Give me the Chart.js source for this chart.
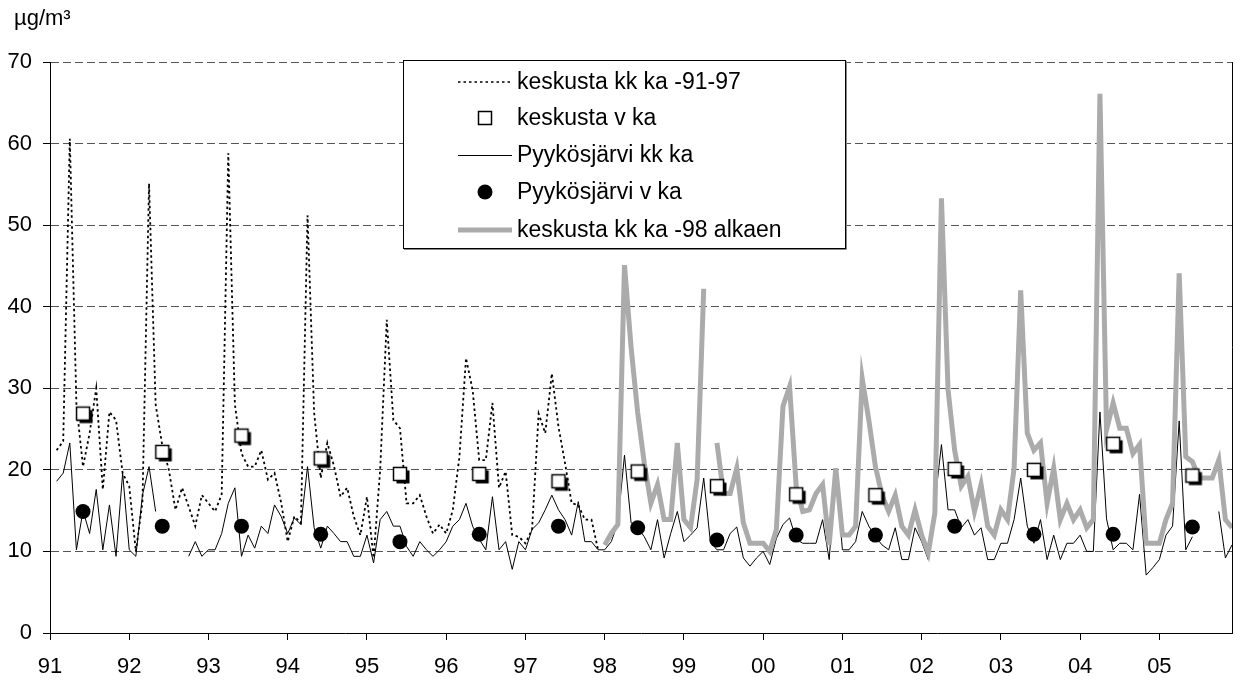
<!DOCTYPE html>
<html>
<head>
<meta charset="utf-8">
<script src="https://cdn.jsdelivr.net/npm/chart.js@4.4.1/dist/chart.umd.min.js"></script>
<style>
  html, body { margin: 0; padding: 0; background: #fff; }
  canvas { display: block; }
</style>
</head>
<body>
<canvas id="c" width="1240" height="681"></canvas>
<script>
// monthly values, index 0 = Jan 1991 ... 179 = Dec 2005 (null = no data)
const keskustaKk = [
  null, 22.4, 23.5, 60.6, 28, 20.4, 24.5, 30, 17.6, 27.1, 26.1, 19.6,   // 91
  18, 10, 16, 55.1, 28, 23, 20, 15.1, 17.8, 15.5, 13.1, 16.9,           // 92
  15.9, 14.9, 17, 58.8, 28, 22, 20.4, 20.4, 22.4, 18.8, 19.6, 16,       // 93
  11.2, 14.3, 13.5, 51.2, 27, 19, 23.3, 20.5, 16.7, 17.8, 14.3, 12,     // 94
  16.7, 9.2, 20, 38.4, 26.1, 25.1, 15.9, 15.9, 16.9, 14.3, 12.2, 13.3,  // 95
  12.2, 15.1, 21.6, 33.7, 29.8, 21.2, 21.2, 28.2, 17.8, 19.8, 12, 11.8, // 96
  11, 12.7, 26.9, 24.5, 31.8, 25.3, 20.8, 15.9, 15.7, 13.9, 13.9, 10.2  // 97
];

const pyykosjarviKk = [
  null, 18.6, 19.6, 23.3, 10.2, 15, 12.2, 17.6, 10.2, 15.7, 9.4, 19.6,   // 91
  10.2, 9.4, 16.9, 20.4, 14.9, null, null, null, null, 9.4, 11.2, 9.4,  // 92
  10.2, 10.2, 12.2, 15.9, 17.8, 9.4, 12, 10.4, 13.1, 12.2, 15.7, 14.3,  // 93
  12.2, 14.1, 13.3, 20.4, 12.9, 10.4, 13.1, 12.2, 11.2, 11.2, 9.4, 9.4, // 94
  12, 8.6, 13.9, 14.9, 13.1, 13.1, 10.6, 9.4, 11.2, 10.2, 9.4, 10.2,    // 95
  11.2, 13.1, 13.9, 15.9, 13.1, 11.5, 10.2, 16.7, 10.2, 11.2, 7.8, 11.2,// 96
  10.2, 12.7, 13.5, 15.1, 16.9, 15.1, 13.9, 12, 16.1, 11.2, 11.2, 10.2, // 97
  10.2, 11.2, 13.5, 21.8, 13.5, 12.9, 11.8, 10.2, 13.9, 9.2, 12.2, 14.9,// 98
  11.2, 12, 12.9, 19, 11.2, 10.2, 10.2, 12.2, 13, 9.2, 8.2, 9.2,        // 99
  10, 8.4, 11.6, 13.3, 14.1, 11.5, 11, 11, 11, 13.9, 9, 20.2,           // 00
  10.2, 10.2, 11.2, 14.9, 13.1, 11.8, 10.8, 10.2, 12.9, 9, 9, 12.9,     // 01
  11.2, 9, 15.9, 23.1, 15.1, 15.1, 12.9, 13.9, 12, 12.9, 9, 9,          // 02
  11, 11, 13.9, 19, 13.1, 11, 13.9, 9, 12, 9, 11, 11,                   // 03
  12, 10, 10, 27.1, 14, 10.2, 11, 11, 10.2, 17, 7.1, 8,                 // 04
  9, 12, 13.1, 26, 10.2, 11.8, null, null, null, 14.9, 9.2, 10.8        // 05
];

const keskusta98Kk = [
  10.8, 12.2, 13.3, 45.1, 35, 27, 20.8, 15.9, 18.2, 13.9, 13.9, 23.3,   // 98
  13.9, 12.9, 18.8, 42.2, null, 23.3, 17.1, 17.1, 20.2, 13.5, 11, 11,   // 99
  11, 10, 12.7, 27.8, 30.2, 18, 14.9, 15.1, 17.1, 18.2, 10.8, 20.2,     // 00
  12, 12, 13.1, 31.2, 26.1, 20.4, 16.9, 14.9, 16.9, 13.1, 12, 15.1,     // 01
  12, 9.8, 14.7, 53.3, 29.8, 22.4, 18, 19.2, 14.9, 18.2, 13.1, 12,      // 02
  15.1, 13.9, 20.2, 42, 24.5, 22.4, 23.3, 15.9, 20.2, 13.9, 15.9, 13.9, // 03
  15.1, 12.9, 13.9, 66.1, 24.9, 28.2, 25.1, 25.1, 22, 23.1, 11, 11,     // 04
  11, 13.9, 15.9, 44.1, 21.6, 21, 19, 19, 19, 21.2, 13.9, 12.9          // 05
];
const keskusta98Start = 84; // Jan 1998

// annual means 1991..2005
const keskustaV = [26.9, 22.2, 24.2, 21.4, 19.5, 19.5, 18.6, 19.8, 18, 17, 16.9, 20.1, 20, 23.2, 19.3];
const pyykosjarviV = [14.9, 13.1, 13.1, 12.1, 11.2, 12.1, 13.1, 12.9, 11.4, 12, 12, 13.1, 12.1, 12.1, 13];

const yearLabels = ['91', '92', '93', '94', '95', '96', '97', '98', '99', '00', '01', '02', '03', '04', '05'];

const seriesNames = [
  'keskusta kk ka -91-97',
  'keskusta v ka',
  'Pyykösjärvi kk ka',
  'Pyykösjärvi v ka',
  'keskusta kk ka -98 alkaen'
];

const FONT = "'Liberation Sans', Arial, sans-serif";
Chart.defaults.font.family = FONT;
Chart.defaults.font.size = 22;
Chart.defaults.color = '#000';

const monthly = (arr, start) => arr.map((v, i) => ({ x: i + start, y: v }));
const annual = arr => arr.map((v, k) => ({ x: k * 12 + 5, y: v }));

function squareMarker(shadow) {
  const c = document.createElement('canvas');
  c.width = 24; c.height = 24;
  const g = c.getContext('2d');
  if (shadow) { g.fillStyle = '#000'; g.fillRect(8.5, 8.5, 13, 13); }
  g.fillStyle = '#fff';
  g.fillRect(5.5, 5.5, 13, 13);
  g.strokeStyle = '#000';
  g.lineWidth = 1.5;
  g.strokeRect(5.5, 5.5, 13, 13);
  return c;
}
const squareImg = squareMarker(true);

const GRAY = '#ababab';

const extras = {
  id: 'extras',
  afterDraw(chart) {
    const ctx = chart.ctx;
    const a = chart.chartArea;
    ctx.save();
    // right border of plot area
    ctx.strokeStyle = '#000';
    ctx.lineWidth = 1;
    ctx.beginPath();
    ctx.moveTo(Math.round(a.right) + 0.5, a.top);
    ctx.lineTo(Math.round(a.right) + 0.5, a.bottom);
    ctx.stroke();

    // unit
    ctx.fillStyle = '#000';
    ctx.font = '22px ' + FONT;
    ctx.textAlign = 'left';
    ctx.textBaseline = 'middle';
    ctx.fillText('µg/m³', 14, 19);

    // legend box
    const bx = 403, by = 60, bw = 442, bh = 188;
    ctx.fillStyle = '#fff';
    ctx.fillRect(bx, by, bw, bh);
    ctx.strokeStyle = '#000';
    ctx.strokeRect(bx + 0.5, by + 0.5, bw, bh);
    ctx.strokeStyle = '#888';
    ctx.beginPath();
    ctx.moveTo(bx + 1, by + bh + 1.5); ctx.lineTo(bx + bw + 1.5, by + bh + 1.5);
    ctx.lineTo(bx + bw + 1.5, by + 1);
    ctx.stroke();

    const rows = [82, 118, 155, 192, 230];
    const x0 = 458, x1 = 512, xm = 485;
    ctx.font = '23px ' + FONT;
    rows.forEach((y, k) => {
      ctx.save();
      if (k === 0) {
        ctx.strokeStyle = '#000'; ctx.lineWidth = 1.5; ctx.setLineDash([2.5, 3]);
        ctx.beginPath(); ctx.moveTo(x0, y); ctx.lineTo(x1, y); ctx.stroke();
      } else if (k === 1) {
        ctx.fillStyle = '#fff'; ctx.strokeStyle = '#000'; ctx.lineWidth = 1.5;
        ctx.fillRect(xm - 6.5, y - 6.5, 13, 13);
        ctx.strokeRect(xm - 6.5, y - 6.5, 13, 13);
      } else if (k === 2) {
        ctx.strokeStyle = '#000'; ctx.lineWidth = 1;
        ctx.beginPath(); ctx.moveTo(x0, y + 0.5); ctx.lineTo(x1, y + 0.5); ctx.stroke();
      } else if (k === 3) {
        ctx.fillStyle = '#000';
        ctx.beginPath(); ctx.arc(xm, y, 7.5, 0, Math.PI * 2); ctx.fill();
      } else {
        ctx.strokeStyle = GRAY; ctx.lineWidth = 5;
        ctx.beginPath(); ctx.moveTo(x0, y); ctx.lineTo(x1, y); ctx.stroke();
      }
      ctx.restore();
      ctx.fillStyle = '#000';
      ctx.textAlign = 'left';
      ctx.textBaseline = 'middle';
      ctx.fillText(seriesNames[k], 517, y + 1);
    });
    ctx.restore();
  }
};

new Chart(document.getElementById('c'), {
  type: 'line',
  data: {
    datasets: [
      {
        label: seriesNames[1],
        data: annual(keskustaV),
        showLine: false,
        pointStyle: squareImg,
        pointRadius: 7,
        order: 0
      },
      {
        label: seriesNames[3],
        data: annual(pyykosjarviV),
        showLine: false,
        pointStyle: 'circle',
        pointRadius: 7.5,
        pointBackgroundColor: '#000',
        pointBorderColor: '#000',
        pointBorderWidth: 0,
        order: 0
      },
      {
        label: seriesNames[4],
        data: monthly(keskusta98Kk, keskusta98Start),
        borderColor: GRAY,
        borderWidth: 5,
        pointRadius: 0,
        order: 1
      },
      {
        label: seriesNames[2],
        data: monthly(pyykosjarviKk, 0),
        borderColor: '#000',
        borderWidth: 1,
        pointRadius: 0,
        order: 2
      },
      {
        label: seriesNames[0],
        data: monthly(keskustaKk, 0),
        borderColor: '#000',
        borderWidth: 1.8,
        borderDash: [2.5, 3],
        borderCapStyle: 'butt',
        pointRadius: 0,
        order: 3
      }
    ]
  },
  options: {
    responsive: false,
    animation: false,
    devicePixelRatio: 1,
    spanGaps: false,
    elements: { line: { tension: 0 } },
    layout: { padding: { top: 62, right: 3, left: 0, bottom: 0 } },
    plugins: { legend: { display: false }, tooltip: { enabled: false } },
    scales: {
      x: {
        type: 'linear',
        min: 0,
        max: 179,
        afterFit: s => { s.height = 48; },
        afterBuildTicks: s => { s.ticks = yearLabels.map((_, k) => ({ value: k * 12 })); },
        ticks: {
          autoSkip: false,
          maxRotation: 0,
          padding: 14,
          callback: v => yearLabels[v / 12]
        },
        grid: { drawOnChartArea: false, drawTicks: true, tickLength: 7, tickColor: '#000', color: '#000' },
        border: { color: '#000', width: 1 }
      },
      y: {
        min: 0,
        max: 70,
        afterFit: s => { s.width = 50; },
        ticks: { stepSize: 10, padding: 11 },
        grid: {
          color: c => (c.tick && c.tick.value === 0 ? 'rgba(0,0,0,0)' : '#555'),
          tickColor: '#000',
          tickLength: 7,
          lineWidth: 1
        },
        border: { color: '#000', width: 1, dash: [8, 4] }
      }
    }
  },
  plugins: [extras]
});
</script>
</body>
</html>
